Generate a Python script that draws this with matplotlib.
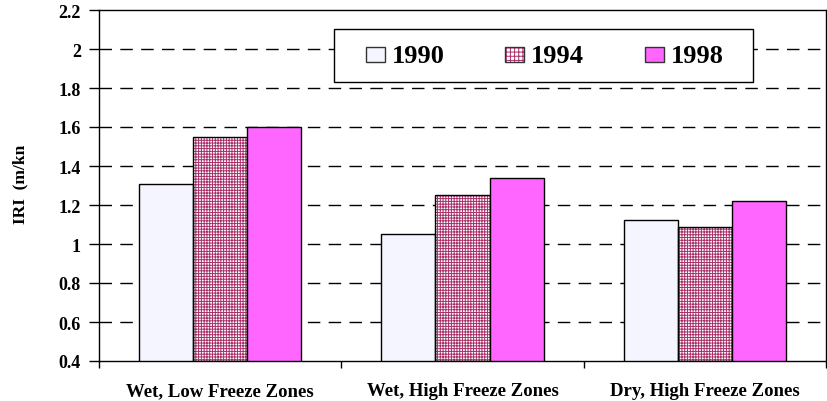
import numpy as np
import matplotlib
matplotlib.use('Agg')
import matplotlib.pyplot as plt
from matplotlib.patches import Rectangle

# IRI by climatic zone and survey year
zones = ['Wet, Low Freeze Zones', 'Wet, High Freeze Zones', 'Dry, High Freeze Zones']
years = ['1990', '1994', '1998']
iri_1990 = [1.31, 1.05, 1.125]
iri_1994 = [1.55, 1.25, 1.085]
iri_1998 = [1.60, 1.34, 1.22]
y_ticks = [0.4, 0.6, 0.8, 1, 1.2, 1.4, 1.6, 1.8, 2, 2.2]

serif = ['Liberation Serif', 'DejaVu Serif']
plt.rcParams['font.family'] = serif
plt.rcParams['hatch.linewidth'] = 0.7

# fill style per year: (face, hatch, hatch colour)
styles = [('#f5f5ff', None, None),
          ('white', '++++++', '#a8306a'),
          ('#ff66ff', None, None)]

W, H = 828, 402
fig = plt.figure(figsize=(W / 100, H / 100), dpi=100)
ax = fig.add_axes([99 / W, 40 / H, 727 / W, 351 / H])


def px(x, y):
    # pixel position (from top-left) -> figure fraction
    return x / W, 1 - y / H


x = np.arange(len(zones))
w = 0.223
for i, (vals, (fc, h, hc)) in enumerate(zip([iri_1990, iri_1994, iri_1998], styles)):
    pos = x + (i - 1) * w
    hgt = np.array(vals) - 0.4
    if h:
        ax.bar(pos, hgt, w, bottom=0.4, color=fc, hatch=h,
               edgecolor=hc, linewidth=0, zorder=2)
        ax.bar(pos, hgt, w, bottom=0.4, fill=False,
               edgecolor='black', linewidth=1.0, zorder=3)
    else:
        ax.bar(pos, hgt, w, bottom=0.4, color=fc,
               edgecolor='black', linewidth=1.0, zorder=3)

ax.set_xlim(-0.5, 2.5)
ax.set_ylim(0.4, 2.2)
ax.set_yticks(y_ticks)
ax.set_yticklabels([f'{t:g}' for t in y_ticks], fontsize=13, fontweight='bold')
ax.tick_params(axis='y', direction='out', length=7, width=1, pad=6)

ax.set_xticks(x)
ax.set_xticklabels(zones, fontsize=13.5, fontweight='bold')
ax.tick_params(axis='x', which='major', length=0, pad=15)
ax.set_xticks([-0.5, 0.5, 1.5, 2.5], minor=True)
ax.tick_params(axis='x', which='minor', direction='out', length=5, width=1)

for t in y_ticks[1:-1]:
    ax.axhline(t, color='black', linewidth=1, linestyle=(0, (9, 6)), zorder=1)

for s in ax.spines.values():
    s.set_linewidth(1)
    s.set_color('black')

fig.text(*px(20, 184), 'IRI  (m/kn', rotation=90, ha='center', va='center',
         fontsize=12.5, fontweight='bold')

# legend box drawn by hand
fx, fy = px(334, 83)
fig.patches.append(Rectangle((fx, fy), 419 / W, 53 / H, transform=fig.transFigure,
                             facecolor='white', edgecolor='black', linewidth=1,
                             zorder=5))
for yr, (fc, h, hc), hx in zip(years, styles, [366, 505, 645]):
    bx, by = px(hx, 63)
    if h:
        fig.patches.append(Rectangle((bx, by), 19 / W, 15 / H, transform=fig.transFigure,
                                     facecolor=fc, hatch='++++', edgecolor=hc,
                                     linewidth=0, zorder=6))
    fig.patches.append(Rectangle((bx, by), 19 / W, 15 / H, transform=fig.transFigure,
                                 facecolor=fc if not h else 'none',
                                 edgecolor='#333333', linewidth=1, zorder=7))
    fig.text(*px(hx + 26, 63), yr, ha='left', va='baseline', fontsize=19,
             fontweight='bold', zorder=8)

fig.savefig('out.png', dpi=100)
